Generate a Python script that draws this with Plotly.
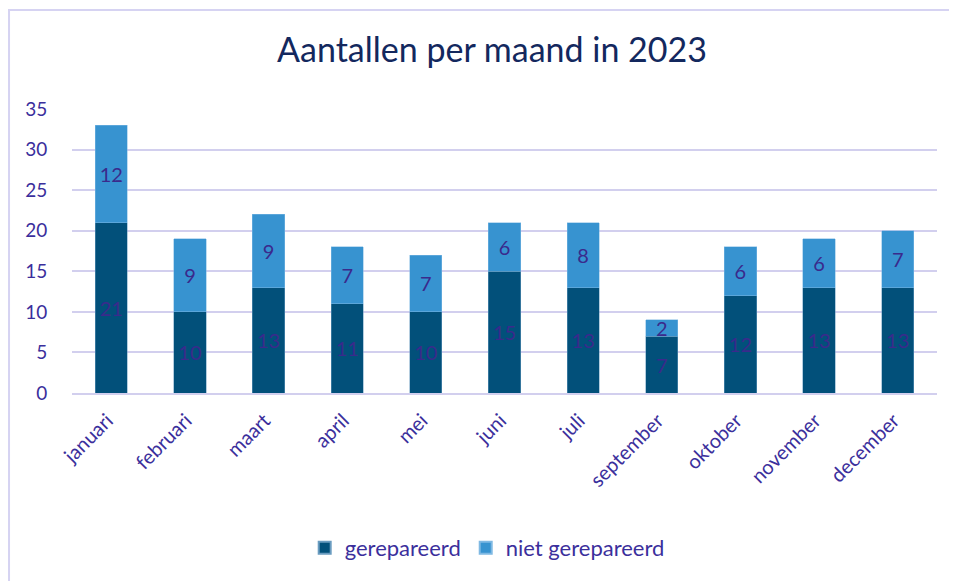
import plotly.graph_objects as go

maanden = ["januari", "februari", "maart", "april", "mei", "juni", "juli",
           "september", "oktober", "november", "december"]
gerepareerd = [21, 10, 13, 11, 10, 15, 13, 7, 12, 13, 13]
niet_gerepareerd = [12, 9, 9, 7, 7, 6, 8, 2, 6, 6, 7]
y_ticks = [0, 5, 10, 15, 20, 25, 30, 35]

FONT = "Lato"
TXT = "#3b2f9c"
GRID = "#d2cfee"

fig = go.Figure()
fig.add_trace(go.Bar(
    x=maanden, y=gerepareerd, name="gerepareerd",
    marker=dict(color="#02507a", line=dict(color="#6a9cc0", width=0.5)),
    text=gerepareerd, textposition="inside", insidetextanchor="middle",
    constraintext="none", textangle=0,
    textfont=dict(family=FONT, size=20, color="#3a2a8c"),
))
fig.add_trace(go.Bar(
    x=maanden, y=niet_gerepareerd, name="niet gerepareerd",
    marker=dict(color="#3793d0", line=dict(color="#7fb9e3", width=0.5)),
    text=niet_gerepareerd, textposition="inside", insidetextanchor="middle",
    constraintext="none", textangle=0,
    textfont=dict(family=FONT, size=20, color="#3a2a8c"),
))

fig.update_layout(
    barmode="stack",
    bargap=0.59,
    width=949, height=573,
    margin=dict(l=64, r=20, t=101, b=188),
    paper_bgcolor="white", plot_bgcolor="white",
    font=dict(family=FONT, color=TXT, size=18),
    title=dict(text="Aantallen per maand in 2023", x=0.51, xanchor="center",
               y=0.926, yanchor="middle",
               font=dict(family=FONT, size=34, color="#13285e")),
    legend=dict(orientation="h", x=0.48, xanchor="center", y=-0.546, yanchor="middle",
                font=dict(family=FONT, size=22, color=TXT), itemsizing="constant",
                traceorder="normal", itemwidth=30),
    uniformtext=dict(mode=False),
    shapes=[dict(type="rect", xref="paper", yref="paper",
                 x0=-0.0728, x1=1.2, y0=-0.70, y1=1.3486,
                 line=dict(color="#d6d3f2", width=2), layer="below")],
)
fig.update_yaxes(range=[0, 35], tickvals=y_ticks, showgrid=True, gridcolor=GRID,
                 gridwidth=2, zeroline=False, showline=False,
                 ticks="outside", ticklen=20, tickcolor="rgba(0,0,0,0)",
                 tickfont=dict(family=FONT, size=19, color=TXT))
fig.update_xaxes(tickangle=-45, showline=True, linecolor=GRID, linewidth=2,
                 ticks="", tickfont=dict(family=FONT, size=20, color=TXT),
                 ticklabelstandoff=6, ticklabelshift=-4)

fig.write_html("out.html")
